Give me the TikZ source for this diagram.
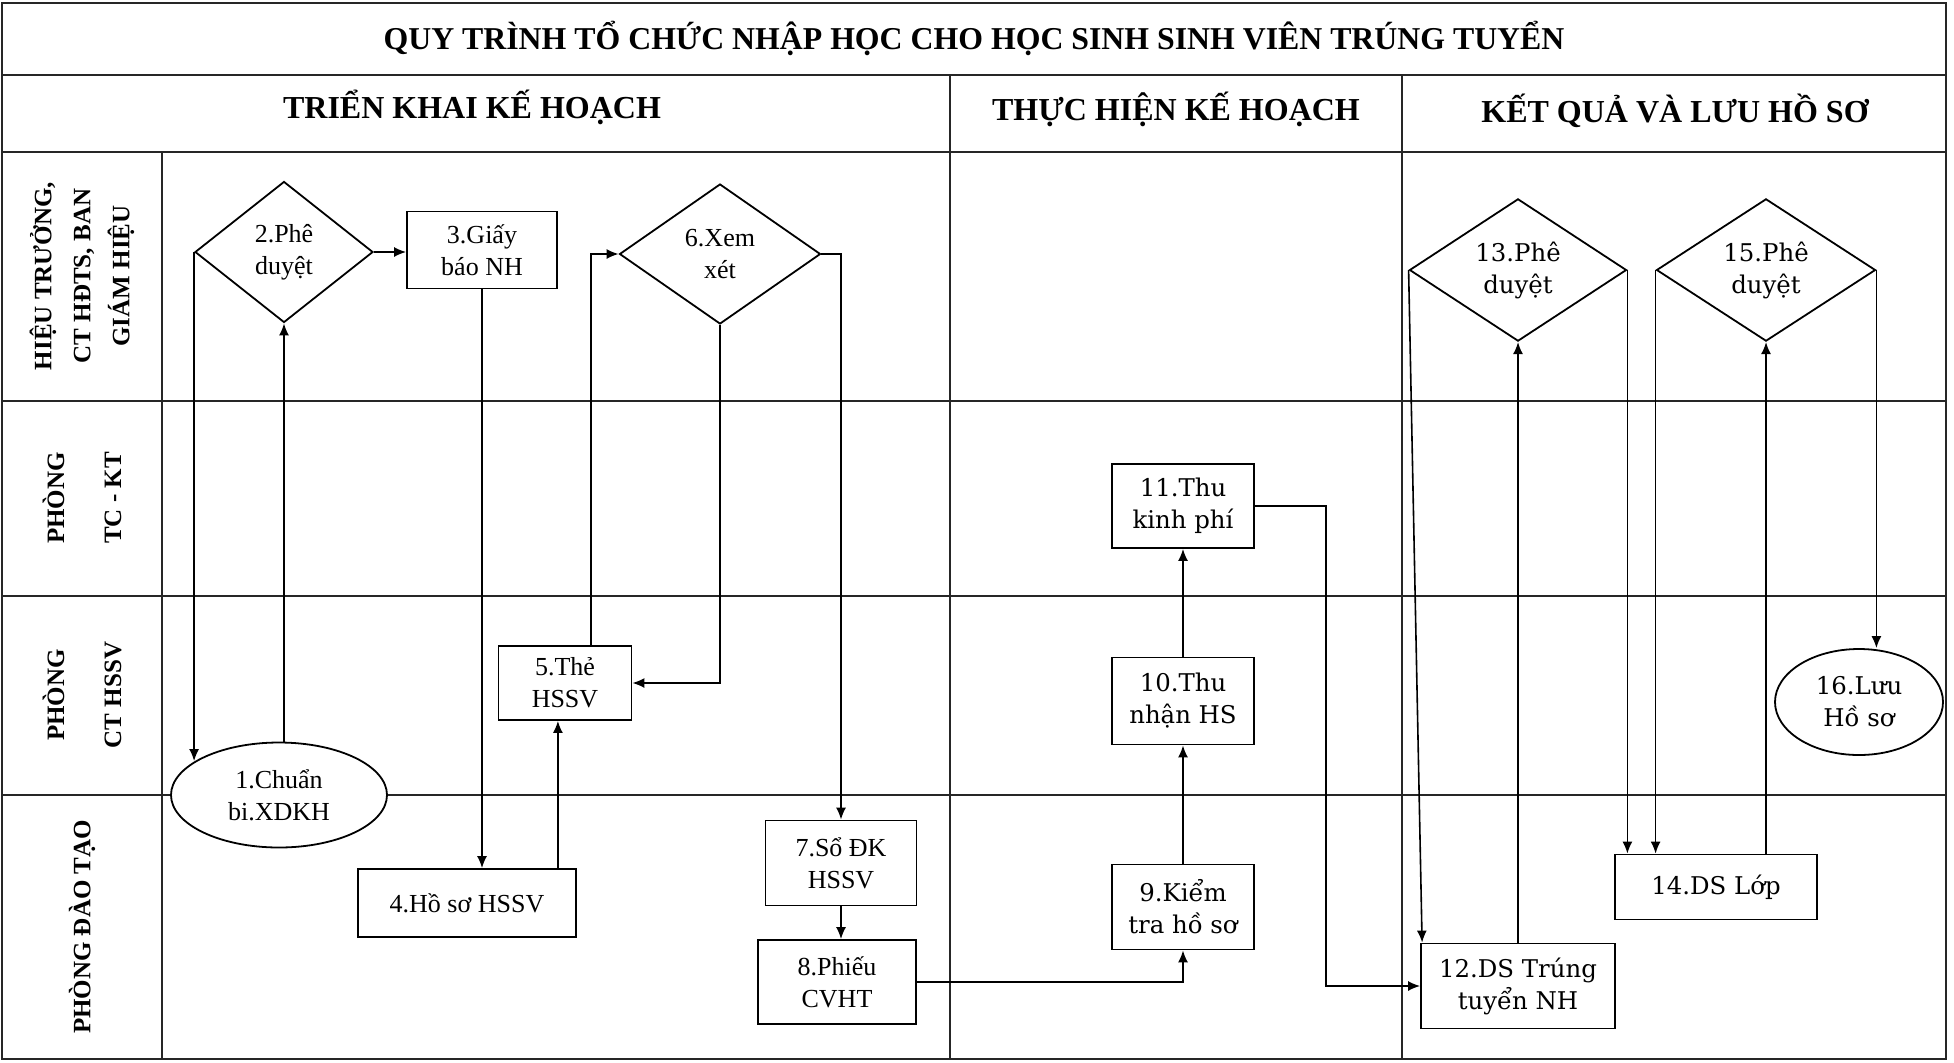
\documentclass[tikz,border=0pt]{standalone}
\usepackage{fontspec}
\setmainfont{Liberation Serif}
\newfontfamily\rfont{DejaVu Serif}
\usetikzlibrary{shapes.geometric,arrows.meta,calc}
\begin{document}
\begin{tikzpicture}[x=0.5pt,y=-0.5pt,
  grid/.style={line width=0.8pt, draw=black!85},
  box/.style={draw, line width=0.9pt, rectangle, fill=white, inner sep=0pt, align=center, font=\fontsize{13}{16}\selectfont},
  rbox/.style={box, font=\rfont\fontsize{12.2}{16}\selectfont},
  dia/.style={draw, line width=0.9pt, diamond, fill=white, inner sep=0pt, align=center, font=\fontsize{13}{16}\selectfont},
  rdia/.style={dia, font=\rfont\fontsize{12.2}{16}\selectfont},
  ell/.style={draw, line width=0.9pt, ellipse, fill=white, inner sep=0pt, align=center, font=\fontsize{13}{16}\selectfont},
  rell/.style={ell, font=\rfont\fontsize{12.2}{16}\selectfont},
  arr/.style={line width=0.8pt, -{Latex[length=6pt,width=5pt]}},
  laneone/.style={rotate=90, align=center, font=\bfseries\fontsize{12.5}{19.5}\selectfont},
  lanetwo/.style={rotate=90, align=center, font=\bfseries\fontsize{12.5}{28.5}\selectfont},
  hdr/.style={font=\bfseries\fontsize{16}{19}\selectfont},
  ttl/.style={font=\bfseries\fontsize{15.9}{19}\selectfont}
]
\useasboundingbox (0,0) rectangle (1954,1062);

% grid
\draw[grid] (2,3) rectangle (1946,1059);
\draw[grid] (2,75) -- (1946,75);
\draw[grid] (2,152) -- (1946,152);
\draw[grid] (950,75) -- (950,1059);
\draw[grid] (1402,75) -- (1402,1059);
\draw[grid] (162,152) -- (162,1059);
\draw[grid] (2,401) -- (1946,401);
\draw[grid] (2,596) -- (1946,596);
\draw[grid] (2,795) -- (1946,795);

% titles
\node[ttl] (t) at (974,38) {QUY TRÌNH TỔ CHỨC NHẬP HỌC CHO HỌC SINH SINH VIÊN TRÚNG TUYỂN};
\node[hdr] (h1) at (472,107) {TRIỂN KHAI KẾ HOẠCH};
\node[hdr] (h2) at (1176,109) {THỰC HIỆN KẾ HOẠCH};
\node[hdr] (h3) at (1675,111) {KẾT QUẢ VÀ LƯU HỒ SƠ};

% lane labels
\node[laneone] (l1) at (82,276) {HIỆU TRƯỞNG,\\CT HĐTS, BAN\\GIÁM HIỆU};
\node[lanetwo] (l2) at (82,498) {PHÒNG\\TC - KT};
\node[lanetwo] (l3) at (82,695) {PHÒNG\\CT HSSV};
\node[laneone] (l4) at (82,927) {PHÒNG ĐÀO TẠO};

% nodes
\node[ell, minimum width=108pt, minimum height=52.5pt] (e1) at (279,795) {1.Chuẩn\\bi.XDKH};
\node[dia, minimum width=89pt, minimum height=70.5pt] (d2) at (284,252) {2.Phê\\duyệt};
\node[box, minimum width=75pt, minimum height=38.5pt] (b3) at (482,250) {3.Giấy\\báo NH};
\node[box, minimum width=109pt, minimum height=34pt] (b4) at (467,903) {4.Hồ sơ HSSV};
\node[box, minimum width=66.5pt, minimum height=37pt] (b5) at (565,683) {5.Thẻ\\HSSV};
\node[dia, minimum width=100.5pt, minimum height=70pt] (d6) at (720,254) {6.Xem\\xét};
\node[box, minimum width=75.5pt, minimum height=42.5pt] (b7) at (841,863) {7.Sổ ĐK\\HSSV};
\node[box, minimum width=79pt, minimum height=42pt] (b8) at (837,982) {8.Phiếu\\CVHT};
\node[rbox, minimum width=71pt, minimum height=42.5pt] (b9) at (1183,907) {9.Kiểm\\tra hồ sơ};
\node[rbox, minimum width=71pt, minimum height=43.5pt] (b10) at (1183,701) {10.Thu\\nhận HS};
\node[rbox, minimum width=71pt, minimum height=42pt] (b11) at (1183,506) {11.Thu\\kinh phí};
\node[rbox, minimum width=97pt, minimum height=42.5pt] (b12) at (1518,986) {12.DS Trúng\\tuyển NH};
\node[rdia, minimum width=108.5pt, minimum height=68.5pt] (d13) at (1518,270) {13.Phê\\duyệt};
\node[rbox, minimum width=101pt, minimum height=32.5pt] (b14) at (1716,887) {14.DS Lớp};
\node[rdia, minimum width=109.5pt, minimum height=68.5pt] (d15) at (1766,270) {15.Phê\\duyệt};
\node[rell, minimum width=84pt, minimum height=53pt] (e16) at (1859,702) {16.Lưu\\Hồ sơ};

% connectors
\draw[arr] (e1.north -| d2.south) -- (d2.south);
\draw[arr] (d2.west) -- (d2.west |- e1.158);
\draw[arr] (d2.east) -- (d2.east -| b3.west);
\draw[arr] (b3.south) -- (b3.south |- b4.north);
\draw[arr] ([xshift=-9.5pt]b4.north east) -- ([xshift=-9.5pt]b4.north east |- b5.south);
\draw[arr] ([xshift=13pt]b5.north) |- (d6.west);
\draw[arr] (d6.south) |- (b5.east);
\draw[arr] (d6.east) -| (b7.north);
\draw[arr] (b7.south) -- (b7.south |- b8.north);
\draw[arr] (b8.east) -| (b9.south);
\draw[arr] (b9.north) -- (b10.south);
\draw[arr] (b10.north) -- (b11.south);
\draw[arr] (b11.east) -- ++(71,0) |- (b12.west);
\draw[arr] (d13.west) -- ([xshift=1pt]b12.north west);
\draw[arr] (b12.north) -- (d13.south);
\draw[arr] (d13.east) -- (d13.east |- b14.north);
\draw[arr] (d15.west) -- (d15.west |- b14.north);
\draw[arr] (d15.south |- b14.north) -- (d15.south);
\draw[arr] (d15.east) -- (d15.east |- e16.north);
\end{tikzpicture}
\end{document}
